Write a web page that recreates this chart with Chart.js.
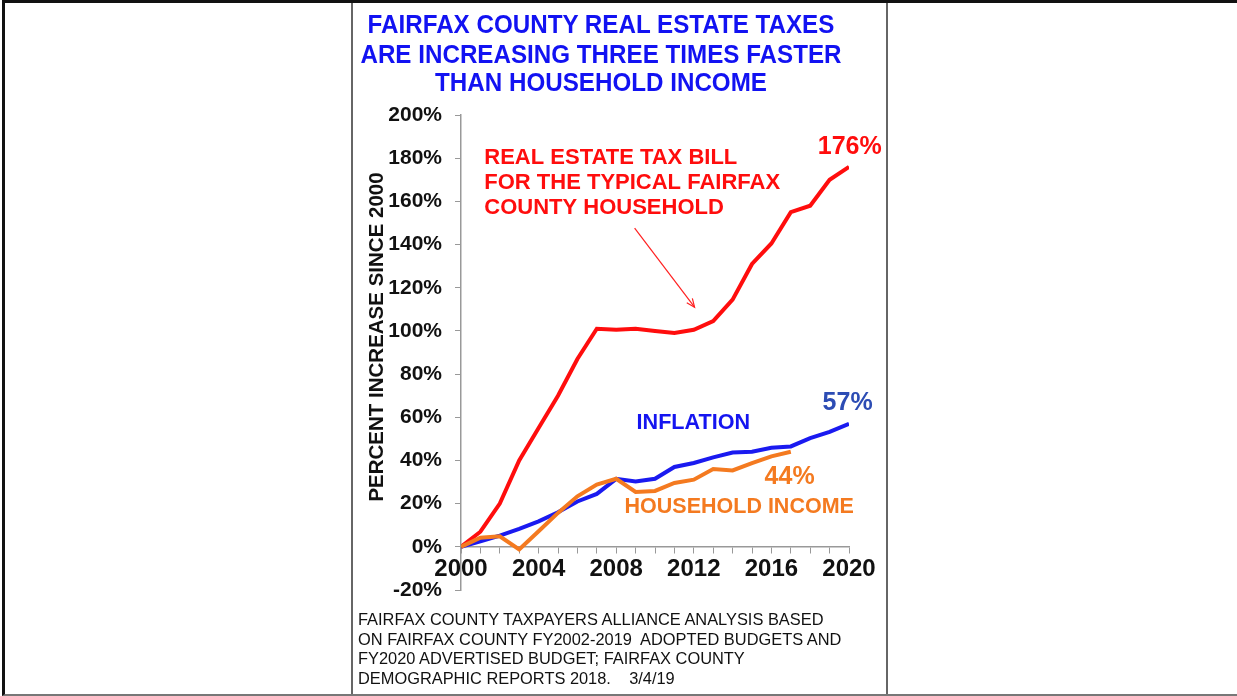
<!DOCTYPE html>
<html>
<head>
<meta charset="utf-8">
<script src="https://cdn.jsdelivr.net/npm/chart.js@4.4.1/dist/chart.umd.min.js"></script>
<style>
  html, body { margin: 0; padding: 0; background: #fff; }
  body { width: 1237px; height: 696px; position: relative; overflow: hidden; font-family: "Liberation Sans", Arial, sans-serif; }
  #frame { position: absolute; left: 2px; top: 0; width: 1232px; height: 691px; border-top: 3px solid #111; border-left: 3px solid #111; border-right: 3px solid #111; border-bottom: 2px solid #777; }
  .panelLine { position: absolute; top: 3px; width: 2px; height: 691px; background: #666; }
  #title { position: absolute; left: 351px; width: 500px; top: 9px; text-align: center; color: #1212f2; font-weight: bold; font-size: 24.2px; line-height: 27.5px; transform: scaleY(1.07); transform-origin: top; }
  #source { position: absolute; left: 358px; top: 610px; color: #111; font-size: 16.4px; line-height: 19.5px; white-space: nowrap; }
  #chart { position: absolute; left: 0; top: 0; }
</style>
</head>
<body>
<div id="frame"></div>
<div class="panelLine" style="left:351px"></div>
<div class="panelLine" style="left:886px"></div>
<canvas id="chart" width="1237" height="696"></canvas>
<div id="title">FAIRFAX COUNTY REAL ESTATE TAXES<br>ARE INCREASING THREE TIMES FASTER<br>THAN HOUSEHOLD INCOME</div>
<div id="source">FAIRFAX COUNTY TAXPAYERS ALLIANCE ANALYSIS BASED<br>ON FAIRFAX COUNTY FY2002-2019&nbsp; ADOPTED BUDGETS AND<br>FY2020 ADVERTISED BUDGET; FAIRFAX COUNTY<br>DEMOGRAPHIC REPORTS 2018.&nbsp;&nbsp;&nbsp; 3/4/19</div>
<script>
const years = [2000, 2001, 2002, 2003, 2004, 2005, 2006, 2007, 2008, 2009, 2010,
               2011, 2012, 2013, 2014, 2015, 2016, 2017, 2018, 2019, 2020];
const taxBill = [0, 7, 20, 40, 55, 70, 87, 101, 100.5, 101, 100,
                 99, 100.5, 104.5, 114.5, 131, 140.5, 155, 158, 170, 176];
const inflation = [0, 2.6, 5.2, 8.3, 11.8, 16, 21, 24.5, 31.5, 30.3, 31.5,
                   37, 38.8, 41.4, 43.7, 44, 45.9, 46.5, 50.3, 53.2, 57];
const incomeYears = years.slice(0, 18);
const householdIncome = [0, 4.2, 4.9, -1.2, 7.2, 15.7, 23.4, 28.8, 31.5, 25.4, 25.9,
                         29.6, 31.1, 36, 35.4, 38.8, 41.9, 44];
const yTicks = [-20, 0, 20, 40, 60, 80, 100, 120, 140, 160, 180, 200];
const xLabelYears = [2000, 2004, 2008, 2012, 2016, 2020];

const toPoints = (xs, ys) => xs.map((x, i) => ({ x: x, y: ys[i] }));

const BOLD = '"Liberation Sans", Arial, sans-serif';

// text labels and arrow drawn on top, placed in data units
const annotations = {
  id: 'annotations',
  afterDatasetsDraw(chart) {
    const ctx = chart.ctx;
    const xs = chart.scales.x, ys = chart.scales.y;
    const X = v => xs.getPixelForValue(v);
    const Y = v => ys.getPixelForValue(v);
    ctx.save();
    ctx.textBaseline = 'middle';

    function txt(s, x, y, color, size, align) {
      ctx.font = 'bold ' + size + 'px ' + BOLD;
      ctx.fillStyle = color;
      ctx.textAlign = align || 'left';
      ctx.fillText(s, x, y);
    }

    // axis title
    ctx.save();
    ctx.translate(377, 337);
    ctx.rotate(-Math.PI / 2);
    txt('PERCENT INCREASE SINCE 2000', 0, 0, '#111', 20.5, 'center');
    ctx.restore();

    const redLines = ['REAL ESTATE TAX BILL', 'FOR THE TYPICAL FAIRFAX', 'COUNTY HOUSEHOLD'];
    redLines.forEach((s, i) => txt(s, X(2001.2), Y(180) + i * 25, '#ff0d0d', 22));
    txt('176%', X(2020.04), Y(184.9), '#ff0d0d', 25, 'center');

    // arrow
    const x1 = X(2008.95), y1 = Y(147.6), x2 = X(2012.04), y2 = Y(111);
    ctx.strokeStyle = '#ff2020';
    ctx.lineWidth = 1.2;
    ctx.beginPath(); ctx.moveTo(x1, y1); ctx.lineTo(x2, y2); ctx.stroke();
    const a = Math.atan2(y2 - y1, x2 - x1);
    ctx.beginPath();
    ctx.moveTo(x2 - 9 * Math.cos(a - 0.4), y2 - 9 * Math.sin(a - 0.4));
    ctx.lineTo(x2, y2);
    ctx.lineTo(x2 - 9 * Math.cos(a + 0.4), y2 - 9 * Math.sin(a + 0.4));
    ctx.stroke();

    txt('INFLATION', X(2009.05), Y(57.4), '#1414f0', 21.6);
    txt('57%', X(2018.64), Y(66.7), '#2c4cb4', 25);
    txt('44%', X(2015.65), Y(32.5), '#f47a20', 25);
    txt('HOUSEHOLD INCOME', X(2008.43), Y(18.6), '#f47a20', 21.5);
    ctx.restore();
  }
};

new Chart(document.getElementById('chart').getContext('2d'), {
  type: 'line',
  data: {
    datasets: [{
      label: 'Household income',
      data: toPoints(incomeYears, householdIncome),
      borderColor: '#f47a20',
      borderWidth: 4,
      pointRadius: 0,
      tension: 0
    }, {
      label: 'Inflation',
      data: toPoints(years, inflation),
      borderColor: '#1a1af0',
      borderWidth: 4,
      pointRadius: 0,
      tension: 0
    }, {
      label: 'Real estate tax bill',
      data: toPoints(years, taxBill),
      borderColor: '#ff0d0d',
      borderWidth: 4,
      pointRadius: 0,
      tension: 0
    }]
  },
  options: {
    responsive: false,
    animation: false,
    layout: { padding: { left: 376, right: 388, top: 115, bottom: 106 } },
    plugins: { legend: { display: false }, tooltip: { enabled: false } },
    scales: {
      x: {
        type: 'linear',
        position: { y: 0 },
        min: 2000,
        max: 2020,
        afterBuildTicks: axis => { axis.ticks = years.map(v => ({ value: v })); },
        ticks: {
          autoSkip: false,
          maxRotation: 0,
          color: '#111',
          font: { family: BOLD, size: 24, weight: 'bold' },
          padding: 2,
          callback: v => xLabelYears.includes(v) ? String(v) : ''
        },
        grid: { drawOnChartArea: false, drawTicks: true, tickLength: 6, color: '#999' },
        border: { color: '#999', width: 1.5 }
      },
      y: {
        min: -20,
        max: 200,
        afterFit: axis => { axis.width = 85; },
        afterBuildTicks: axis => { axis.ticks = yTicks.map(v => ({ value: v })); },
        ticks: {
          color: '#111',
          font: { family: BOLD, size: 21, weight: 'bold' },
          padding: 13,
          callback: v => v + '%'
        },
        grid: { drawOnChartArea: false, drawTicks: true, tickLength: 6, color: '#999' },
        border: { color: '#999', width: 1.5 }
      }
    }
  },
  plugins: [annotations]
});
</script>
</body>
</html>
